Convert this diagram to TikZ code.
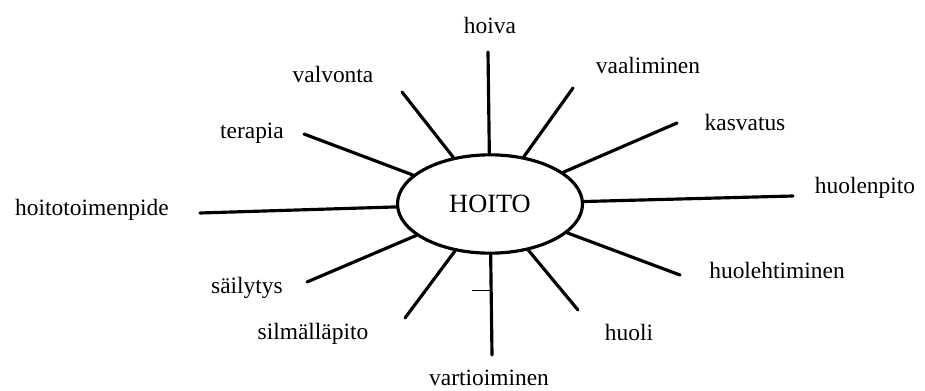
\documentclass[tikz,border=0pt]{standalone}
\usepackage{fontspec}
\setmainfont{Liberation Serif}
\usetikzlibrary{shapes.geometric}

\begin{document}
\begin{tikzpicture}[
    x=0.03cm, y=-0.03cm,
    spoke/.style={line width=2.7pt, line cap=round},
    word/.style={font=\fontsize{20}{24}\selectfont, inner sep=0pt, anchor=base},
]
\useasboundingbox (0,0) rectangle (925,390);

% ---- Centre ellipse ----
\node[draw, ellipse, line width=2.7pt, minimum width=5.55cm, minimum height=2.95cm,
      font=\fontsize{22.5}{26}\selectfont] (hoito) at (490,204) {HOITO};

% ---- Spokes and their words ----
% id / spoke end x,y / word base x,y / word
\foreach \id/\ex/\ey/\lx/\ly/\txt in {
    hoiva/488/52/490/33/hoiva,
    valvonta/402/92/333/82/valvonta,
    vaaliminen/573/88/648/73/vaaliminen,
    kasvatus/677/123/745/130/kasvatus,
    terapia/304/134/252/138/terapia,
    huolenpito/793/196/865/193/huolenpito,
    hoitotoimenpide/200/213/92/215/hoitotoimenpide,
    huolehtiminen/680/275/777/278/huolehtiminen,
    sailytys/307/282/247/293/säilytys,
    silmallapito/405/318/313/339/silmälläpito,
    vartioiminen/492/355/489/385/vartioiminen,
    huoli/578/310/629/340/huoli}{
    \coordinate (end-\id) at (\ex,\ey);
    \node[word] (\id) at (\lx,\ly) {\txt};
    \draw[spoke] (hoito) -- (end-\id);
}

% small stray tick on the lower spoke
\coordinate (tick) at (472,290);
\draw[line width=0.8pt] (tick) -- (tick -| end-vartioiminen);

\end{tikzpicture}
\end{document}
